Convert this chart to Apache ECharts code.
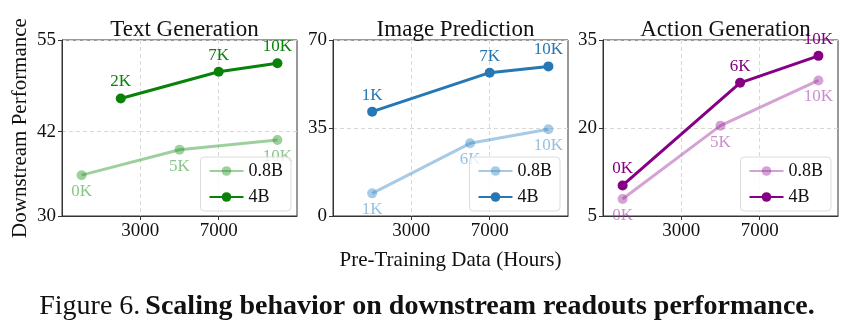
<!DOCTYPE html>
<html>
<head>
<meta charset="utf-8">
<script src="https://cdn.jsdelivr.net/npm/echarts@6/dist/echarts.min.js"></script>
<style>
  html, body { margin: 0; padding: 0; background: #fff; }
  #chart { width: 854px; height: 332px; }
</style>
</head>
<body>
<div id="chart"></div>
<script>
// 数据
const titles = ['Text Generation', 'Image Prediction', 'Action Generation']

const textHours08 = [0, 5000, 10000]
const text08 = [35.8, 39.4, 40.8]
const textHours4 = [2000, 7000, 10000]
const text4 = [46.7, 50.5, 51.7]

const imgHours08 = [1000, 6000, 10000]
const img08 = [9.0, 28.9, 34.5]
const imgHours4 = [1000, 7000, 10000]
const img4 = [41.5, 57.0, 59.5]

const actHours08 = [0, 5000, 10000]
const act08 = [7.9, 20.4, 28.1]
const actHours4 = [0, 6000, 10000]
const act4 = [10.2, 27.7, 32.3]

const xTicks = [3000, 7000]
const yTicksText = [30, 42, 55]
const yTicksImg = [0, 35, 70]
const yTicksAct = [5, 20, 35]

const strong = ['#0a820a', '#2677b3', '#850085']
const light = ['rgba(40,150,40,0.45)', 'rgba(60,140,200,0.45)', 'rgba(160,50,160,0.45)']
const lightText = ['rgba(40,150,40,0.55)', 'rgba(60,140,200,0.55)', 'rgba(160,50,160,0.55)']

const FONT = "'Liberation Serif', 'DejaVu Serif', serif"
const gridLefts = [62, 333, 603]
const legendRights = [563, 294, 23]

const toPairs = (xs, ys) => xs.map((x, i) => [x, ys[i]])
const kLabel = (xs) => (p) => (xs[p.dataIndex] / 1000) + 'K'

const panels = [
  [textHours08, text08, textHours4, text4, yTicksText],
  [imgHours08, img08, imgHours4, img4, yTicksImg],
  [actHours08, act08, actHours4, act4, yTicksAct]
]

const grid = [], xAxis = [], yAxis = [], series = [], legend = [], title = []

panels.forEach((p, i) => {
  grid.push({ left: gridLefts[i], top: 40, width: 235, height: 176, show: true, borderColor: '#333', borderWidth: 1 })

  title.push({
    text: titles[i],
    left: gridLefts[i] + 117.5,
    top: 13,
    textAlign: 'center',
    textStyle: { fontFamily: FONT, fontSize: 23, fontWeight: 'normal', color: '#111' }
  })

  xAxis.push({
    type: 'value', gridIndex: i, min: -1000, max: 11000,
    axisLine: { show: true, onZero: false, lineStyle: { color: '#333' } },
    axisTick: { show: true, length: 4, customValues: xTicks, lineStyle: { color: '#333' } },
    axisLabel: { customValues: xTicks, formatter: (v) => String(v), fontFamily: FONT, fontSize: 19, color: '#111', margin: 6 },
    splitLine: { show: true, lineStyle: { type: [4, 3], color: '#d8d8d8' } },
    name: i === 1 ? 'Pre-Training Data (Hours)' : '',
    nameLocation: 'middle', nameGap: 34,
    nameTextStyle: { fontFamily: FONT, fontSize: 21, color: '#111' }
  })

  const yt = p[4]
  yAxis.push({
    type: 'value', gridIndex: i, min: yt[0], max: yt[2],
    axisLine: { show: true, onZero: false, lineStyle: { color: '#333' } },
    axisTick: { show: true, length: 4, customValues: yt, lineStyle: { color: '#333' } },
    axisLabel: { customValues: yt, fontFamily: FONT, fontSize: 19, color: '#111', margin: 6 },
    splitLine: { show: true, lineStyle: { type: [4, 3], color: '#d8d8d8' } },
    name: i === 0 ? 'Downstream Performance' : '',
    nameLocation: 'middle', nameRotate: 90, nameGap: 31,
    nameTextStyle: { fontFamily: FONT, fontSize: 21, color: '#111' }
  })

  const n08 = 'p' + i + ' 0.8B', n4 = 'p' + i + ' 4B'

  series.push({
    name: n08, type: 'line', xAxisIndex: i, yAxisIndex: i,
    data: toPairs(p[0], p[1]),
    symbol: 'circle', symbolSize: 10,
    lineStyle: { width: 3, color: light[i] },
    itemStyle: { color: light[i] },
    label: { show: true, position: 'bottom', distance: 3, formatter: kLabel(p[0]), fontFamily: FONT, fontSize: 17, color: lightText[i] },
    z: 2
  })
  series.push({
    name: n4, type: 'line', xAxisIndex: i, yAxisIndex: i,
    data: toPairs(p[2], p[3]),
    symbol: 'circle', symbolSize: 10,
    lineStyle: { width: 3, color: strong[i] },
    itemStyle: { color: strong[i] },
    label: { show: true, position: 'top', distance: 3, formatter: kLabel(p[2]), fontFamily: FONT, fontSize: 17, color: strong[i] },
    z: 3
  })

  legend.push({
    data: [n08, n4],
    orient: 'vertical',
    right: legendRights[i],
    top: 157,
    itemWidth: 34, itemHeight: 12, itemGap: 8,
    padding: [5, 8, 5, 8],
    backgroundColor: 'rgba(255,255,255,0.82)',
    borderColor: '#dcdcdc', borderWidth: 1, borderRadius: 4,
    formatter: (name) => name.split(' ')[1],
    textStyle: { fontFamily: FONT, fontSize: 18, color: '#111' },
    selectedMode: false,
    z: 10
  })
})

// 图注
title.push({
  text: '{a|Figure 6.} {b|Scaling behavior on downstream readouts performance.}',
  left: 'center',
  top: 288,
  textStyle: {
    fontWeight: 'normal',
    rich: {
      a: { fontFamily: FONT, fontSize: 28, fontWeight: 'normal', color: '#111' },
      b: { fontFamily: FONT, fontSize: 28, fontWeight: 'bold', color: '#111' }
    }
  }
})

const chart = echarts.init(document.getElementById('chart'))
chart.setOption({
  backgroundColor: '#fff',
  animation: false,
  title, grid, xAxis, yAxis, series, legend
})
</script>
</body>
</html>
